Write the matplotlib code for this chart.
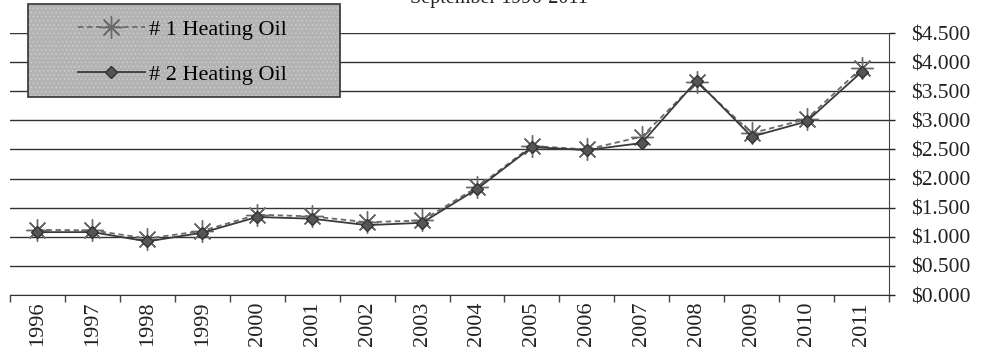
import matplotlib
matplotlib.use("Agg")
import matplotlib.pyplot as plt
from matplotlib.patches import Rectangle
from matplotlib.ticker import FuncFormatter, MultipleLocator
import numpy as np

years = ["1996", "1997", "1998", "1999", "2000", "2001", "2002", "2003",
         "2004", "2005", "2006", "2007", "2008", "2009", "2010", "2011"]
oil_1 = [1.12, 1.11, 0.97, 1.10, 1.38, 1.35, 1.25, 1.28,
         1.85, 2.56, 2.50, 2.72, 3.66, 2.78, 3.02, 3.90]
oil_2 = [1.08, 1.08, 0.92, 1.07, 1.34, 1.31, 1.20, 1.24,
         1.82, 2.54, 2.49, 2.61, 3.68, 2.72, 2.98, 3.83]

plt.rcParams["font.family"] = ["Liberation Serif", "DejaVu Serif"]
plt.rcParams["hatch.linewidth"] = 0.6

W, H = 983, 364
fig = plt.figure(figsize=(W / 100, H / 100), dpi=100)
ax = fig.add_axes([10 / W, 1 - 295 / H, 879 / W, 262 / H])

x = np.arange(len(years))
ax.plot(x, oil_1, color="#6a6a6a", linestyle=(0, (3, 2)), linewidth=1.3,
        marker=(8, 2, 0), markersize=16, markeredgewidth=1.0,
        markeredgecolor="#6a6a6a", label="# 1 Heating Oil", zorder=3)
ax.plot(x, oil_2, color="#3a3a3a", linewidth=1.3,
        marker="D", markersize=6, markerfacecolor="#555555",
        markeredgecolor="#333333", label="# 2 Heating Oil", zorder=4)

ax.set_xlim(-0.5, len(years) - 0.5)
ax.set_ylim(0, 4.5)

ax.yaxis.tick_right()
ax.yaxis.set_major_locator(MultipleLocator(0.5))
ax.yaxis.set_major_formatter(FuncFormatter(lambda v, p: f"${v:.3f}"))
ax.tick_params(axis="y", direction="out", length=4, width=1, pad=12,
               labelsize=15.5, colors="#222222")

ax.set_xticks(x)
ax.set_xticklabels(years, rotation=90)
ax.set_xticks(np.arange(len(years) + 1) - 0.5, minor=True)
ax.tick_params(axis="x", which="major", length=0, pad=5, labelsize=16,
               colors="#222222")
ax.tick_params(axis="x", which="minor", length=5, width=1, color="#444444")

ax.grid(True, axis="y", color="#333333", linewidth=1.0)
ax.set_axisbelow(True)
for side in ["left", "top"]:
    ax.spines[side].set_visible(False)
ax.spines["bottom"].set_color("#333333")
ax.spines["right"].set_color("#444444")

fig.text(0.508, 1 - 3 / H, "September 1996-2011", ha="center",
         va="baseline", fontsize=14.5, color="#222222")

# legend box drawn as its own patches so the entries can sit inset in it
box_xy = (28 / W, 1 - 97 / H)
box_w, box_h = 312 / W, 93 / H
fill = Rectangle(box_xy, box_w, box_h, transform=fig.transFigure,
                 facecolor="#b3b3b3", edgecolor="#cdcdcd", linewidth=0,
                 hatch="....", zorder=5)
frame = Rectangle(box_xy, box_w, box_h, transform=fig.transFigure,
                  fill=False, edgecolor="#333333", linewidth=1.2, zorder=5.5)
fig.add_artist(fill)
fig.add_artist(frame)

handles, labels = ax.get_legend_handles_labels()
leg = fig.legend(handles, labels, loc="upper left",
                 bbox_to_anchor=(78 / W, 1 - 19 / H), fontsize=16,
                 frameon=False, handlelength=3.0, labelspacing=1.1,
                 borderpad=0, handletextpad=0.2, borderaxespad=0)
leg.set_zorder(6)

fig.savefig("out.png", dpi=100)
